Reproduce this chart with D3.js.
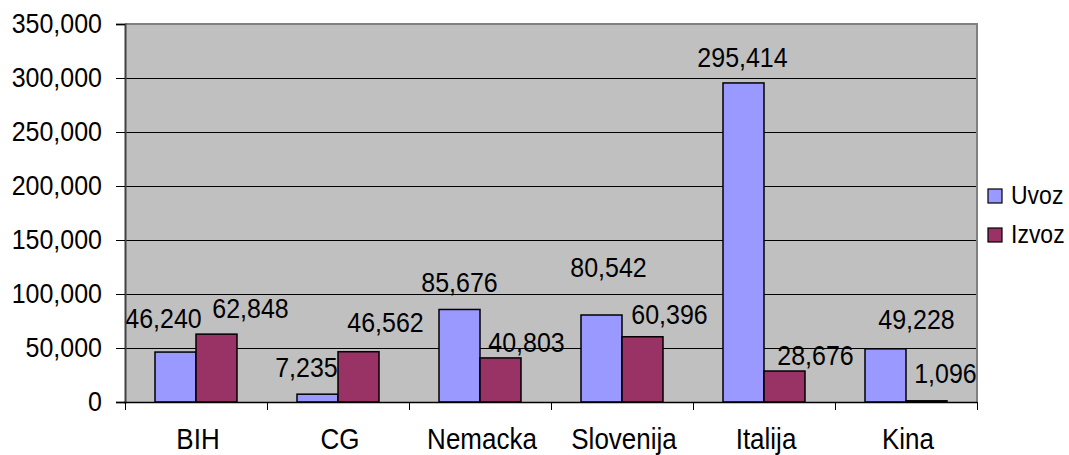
<!DOCTYPE html>
<html><head><meta charset="utf-8">
<script src="https://cdn.jsdelivr.net/npm/d3@7"></script>
<style>
html,body{margin:0;padding:0;background:#fff;}
text{font-family:Arial,"Liberation Sans",sans-serif;fill:#000;}
</style></head>
<body>
<svg id="chart" width="1069" height="455"></svg>
<script>
const categories = ["BIH", "CG", "Nemacka", "Slovenija", "Italija", "Kina"];
const seriesNames = ["Uvoz", "Izvoz"];
const uvoz = [46240, 7235, 85676, 80542, 295414, 49228];
const izvoz = [62848, 46562, 40803, 60396, 28676, 1096];
const yTicks = [0, 50000, 100000, 150000, 200000, 250000, 300000, 350000];
// label nudges (px) relative to bar centre / bar top, as in the original
const uvozLabelDx = [-12, -11, 0, 7, -1, 31];
const uvozLabelDy = [24, 17, 17, 38, 16, 20];
const izvozLabelDx = [34, 27, 26, 27, 31, 19];
const izvozLabelDy = [16, 20, 6, 13, 6, 18];

const colors = {Uvoz: "#9999FF", Izvoz: "#993366"};
const SY = 1.12;
const svg = d3.select("#chart");
const L = 125, R = 977, T = 24, B = 402;

const y = d3.scaleLinear().domain([0, 350000]).range([B, T]);
const x0 = d3.scaleBand().domain(categories).range([L, R]).paddingInner(0).paddingOuter(0);
const x1 = d3.scaleBand().domain(seriesNames).range([0, x0.bandwidth()]).paddingInner(0).paddingOuter(30/41);

// plot area
svg.append("rect").attr("x", L).attr("y", T).attr("width", R - L).attr("height", B - T).attr("fill", "#C0C0C0");

// gridlines
svg.append("g").selectAll("line").data(yTicks.filter(v => v > 0 && v < 350000)).join("line")
  .attr("x1", L).attr("x2", R).attr("y1", d => Math.round(y(d)) + 0.5).attr("y2", d => Math.round(y(d)) + 0.5)
  .attr("stroke", "#000").attr("stroke-width", 1);

// border top/right
svg.append("path").attr("d", `M${L},${T} H${R} V${B}`).attr("fill", "none").attr("stroke", "#808080").attr("stroke-width", 2);

// bars
const data = categories.map((c, i) => ({c, vals: [{s: "Uvoz", v: uvoz[i], dx: uvozLabelDx[i], dy: uvozLabelDy[i]}, {s: "Izvoz", v: izvoz[i], dx: izvozLabelDx[i], dy: izvozLabelDy[i]}]}));
const g = svg.append("g").selectAll("g").data(data).join("g").attr("transform", d => `translate(${x0(d.c)},0)`);
g.selectAll("rect").data(d => d.vals).join("rect")
  .attr("x", d => x1(d.s)).attr("width", x1.bandwidth())
  .attr("y", d => y(d.v)).attr("height", d => B - y(d.v))
  .attr("fill", d => colors[d.s]).attr("stroke", "#000").attr("stroke-width", 1.5);
g.selectAll("text").data(d => d.vals).join("text")
  .attr("transform", d => `translate(${x1(d.s) + x1.bandwidth() / 2 + d.dx},${y(d.v) - d.dy}) scale(1,${SY})`)
  .attr("text-anchor", "middle").attr("font-size", 25)
  .text(d => d3.format(",")(d.v));

// y axis
const yAxis = d3.axisLeft(y).tickValues(yTicks).tickFormat(d3.format(",")).tickSize(9).tickPadding(14);
const ya = svg.append("g").attr("transform", `translate(${L},0)`).call(yAxis);
ya.select(".domain").attr("stroke", "#404040").attr("stroke-width", 2);
ya.selectAll(".tick line").attr("stroke", "#000");
ya.selectAll(".tick text").attr("font-size", 25).attr("font-family", "Arial, 'Liberation Sans', sans-serif").attr("fill", "#000")
  .attr("transform", `scale(1,${SY})`);

// x axis line + boundary ticks
svg.append("line").attr("x1", L - 1).attr("x2", R).attr("y1", B + 0.5).attr("y2", B + 0.5).attr("stroke", "#000").attr("stroke-width", 1.5);
const bounds = categories.map(c => x0(c)).concat([R]);
svg.append("g").selectAll("line").data(bounds).join("line")
  .attr("x1", d => d + 0.5).attr("x2", d => d + 0.5).attr("y1", B).attr("y2", B + 8)
  .attr("stroke", "#000").attr("stroke-width", 1);
svg.append("g").selectAll("text").data(categories).join("text")
  .attr("transform", d => `translate(${x0(d) + x0.bandwidth() / 2 + 2},449) scale(1,${SY})`)
  .attr("text-anchor", "middle").attr("font-size", 26).text(d => d);

// legend
const lg = svg.append("g").selectAll("g").data(seriesNames).join("g")
  .attr("transform", (d, i) => `translate(988,${189 + i * 39})`);
lg.append("rect").attr("width", 14).attr("height", 14).attr("fill", d => colors[d]).attr("stroke", "#000").attr("stroke-width", 1.2);
lg.append("text").attr("transform", `translate(23,15) scale(1,${SY})`).attr("font-size", 23).text(d => d);
</script>
</body></html>
